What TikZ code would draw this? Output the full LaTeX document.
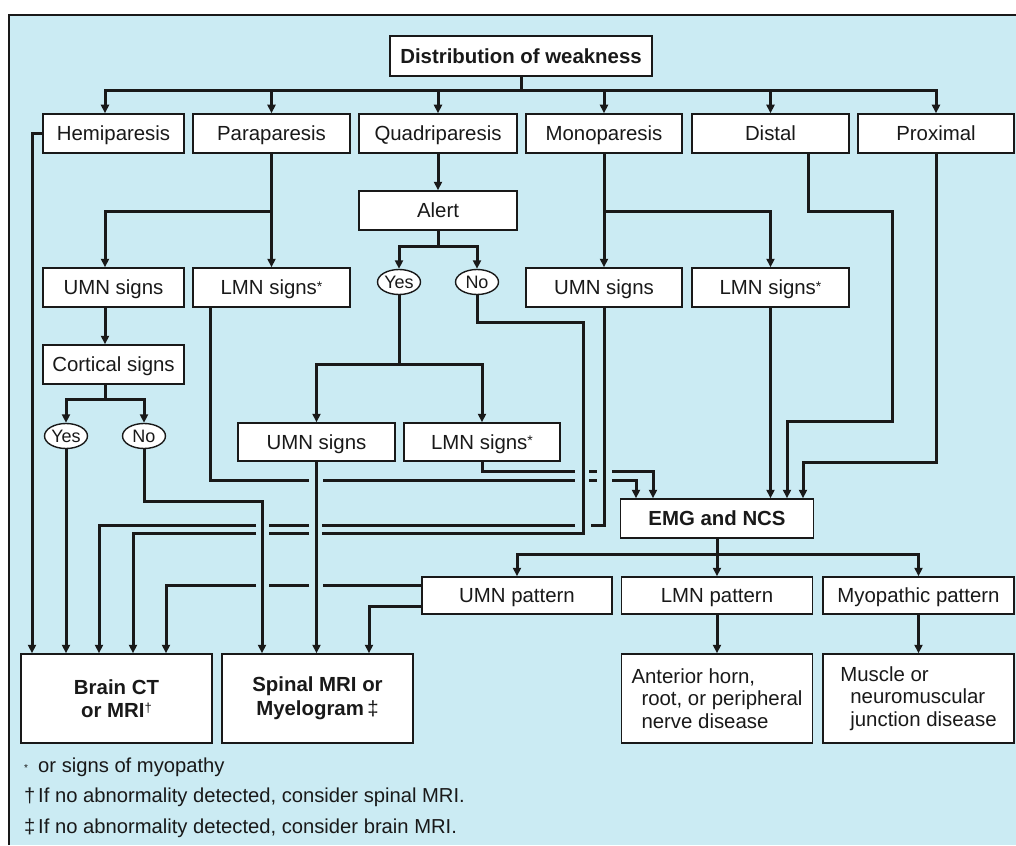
\documentclass[tikz,border=0pt]{standalone}
\usepackage{fontspec}
\setmainfont{Liberation Sans}
\usetikzlibrary{arrows.meta,shapes.geometric}
\definecolor{bg}{RGB}{203,235,243}
\definecolor{ink}{RGB}{25,25,25}
\newcommand{\sstar}{\raisebox{3.5pt}{\fontsize{14}{14}\selectfont *}}
\begin{document}
\begin{tikzpicture}[x=1pt,y=-1pt,
  box/.style={draw=ink, line width=1.5pt, fill=white, inner sep=0pt, minimum height=39pt,
    font=\fontsize{20.4}{22.5}\selectfont, text=ink},
  one/.style={box, text height=15pt, text depth=0.3pt},
  bone/.style={one, font=\fontsize{20.4}{22.5}\selectfont\bfseries},
  bbox/.style={box, font=\fontsize{20.4}{23.5}\selectfont\bfseries},
  oval/.style={ellipse, draw=ink, line width=1.4pt, fill=white, inner sep=0pt,
    minimum width=43pt, minimum height=25pt, font=\fontsize{18}{18}\selectfont, text=ink},
  foot/.style={inner sep=0pt, font=\fontsize{20.2}{22}\selectfont, text=ink},
  con/.style={line width=3pt, draw=ink},
  arr/.style={con, -{Triangle[length=8.5pt,width=8pt]}},
]
\useasboundingbox (0,0) rectangle (1016,845);
\fill[white] (0,0) rectangle (1016,845);
\fill[bg] (9,15) rectangle (1016,845);
\draw[line width=1.8pt, draw=ink] (9,845) -- (9,15) -- (1016,15);

% helper columns / rows
\coordinate (x32) at (32,0);
\coordinate (x99) at (99,0);
\coordinate (x105) at (105,0);
\coordinate (x133) at (133,0);
\coordinate (x166) at (166,0);
\coordinate (x210) at (210,0);
\coordinate (x262) at (262,0);
\coordinate (x369) at (369,0);
\coordinate (x636) at (636,0);
\coordinate (x653) at (653,0);
\coordinate (x787) at (787,0);
\coordinate (x803) at (803,0);
\coordinate (x808) at (808,0);
\coordinate (yBus) at (0,91);
\coordinate (y211) at (0,211);
\coordinate (y246) at (0,246);
\coordinate (y364) at (0,364);
\coordinate (y399) at (0,399);
\coordinate (y501) at (0,501);
\coordinate (y554) at (0,554);
\coordinate (y585) at (0,585);
\coordinate (y606) at (0,606);

% nodes
\node[bone, minimum width=262pt, minimum height=40pt] (dist) at (521,56) {Distribution of weakness};
\node[one, minimum width=141pt] (hemi) at (113.5,133.5) {Hemiparesis};
\node[one, minimum width=157pt] (para) at (271.5,133.5) {Paraparesis};
\node[one, minimum width=158pt] (quad) at (438,133.5) {Quadriparesis};
\node[one, minimum width=156pt] (mono) at (604,133.5) {Monoparesis};
\node[one, minimum width=157pt] (distal) at (770.5,133.5) {Distal};
\node[one, minimum width=156pt] (prox) at (936,133.5) {Proximal};
\node[one, minimum width=158pt] (alert) at (438,210.5) {Alert};
\node[one, minimum width=141pt] (umnA) at (113.5,287.5) {UMN signs};
\node[one, minimum width=157pt] (lmnA) at (271.5,287.5) {LMN signs\sstar};
\node[oval] (yesA) at (399,282) {Yes};
\node[oval] (noA) at (477,282) {No};
\node[one, minimum width=156pt] (umnB) at (604,287.5) {UMN signs};
\node[one, minimum width=157pt] (lmnB) at (770.5,287.5) {LMN signs\sstar};
\node[one, minimum width=141pt] (cort) at (113.5,364.5) {Cortical signs};
\node[oval] (yesB) at (66,436) {Yes};
\node[oval] (noB) at (144,436) {No};
\node[one, minimum width=157pt, minimum height=38pt] (umnC) at (316.5,442) {UMN signs};
\node[one, minimum width=156pt, minimum height=38pt] (lmnC) at (482,442) {LMN signs\sstar};
\node[bone, minimum width=193pt] (emg) at (717,518.5) {EMG and NCS};
\node[one, minimum width=190pt, minimum height=37pt] (umnP) at (517,595.5) {UMN pattern};
\node[one, minimum width=191pt, minimum height=37pt] (lmnP) at (717,595.5) {LMN pattern};
\node[one, minimum width=191pt, minimum height=37pt] (myoP) at (918.5,595.5) {Myopathic pattern};
\node[bbox, minimum width=191pt, minimum height=89pt, align=center] (brain) at (116.5,698.5)
  {Brain CT\\or MRI\raisebox{5pt}{\fontsize{13}{13}\selectfont\mdseries †}};
\node[bbox, minimum width=191pt, minimum height=89pt, align=center] (spinal) at (317.5,698.5)
  {Spinal MRI or\\Myelogram\,{\mdseries ‡}};
\node[box, minimum width=191pt, minimum height=89pt, align=left] (ant) at (717,698.5)
  {Anterior horn,\\\hspace*{10pt}root, or peripheral\\\hspace*{10pt}nerve disease};
\node[box, minimum width=191pt, minimum height=89pt, align=left] (mus) at (918.5,698.5)
  {Muscle or\\\hspace*{10pt}neuromuscular\\\hspace*{10pt}junction disease};

% footnotes
\node[foot, anchor=base west] (s1) at (24,772) {\raisebox{1pt}{\fontsize{10}{10}\selectfont *}};
\node[foot, anchor=base west] (t1) at (38,772) {or signs of myopathy};
\node[foot, anchor=base west] (s2) at (24,802) {†};
\node[foot, anchor=base west] (t2) at (38,802) {If no abnormality detected, consider spinal MRI.};
\node[foot, anchor=base west] (s3) at (24,833) {‡};
\node[foot, anchor=base west] (t3) at (38,833) {If no abnormality detected, consider brain MRI.};

% top bus
\draw[arr] (dist.south) -- (dist.south |- yBus) -| (hemi.north -| x105);
\draw[arr] (dist.south |- yBus) -| (prox.north);
\draw[arr] (para.north |- yBus) -- (para.north);
\draw[arr] (quad.north |- yBus) -- (quad.north);
\draw[arr] (mono.north |- yBus) -- (mono.north);
\draw[arr] (distal.north |- yBus) -- (distal.north);

% hemiparesis
\draw[arr] (hemi.west) -- (hemi.west -| x32) -- (brain.north -| x32);

% paraparesis
\draw[arr] (para.south) -- (lmnA.north);
\draw[arr] (para.south |- y211) -| (umnA.north -| x105);

% monoparesis
\draw[arr] (mono.south) -- (umnB.north);
\draw[arr] (mono.south |- y211) -| (lmnB.north);

% quadriparesis
\draw[arr] (quad.south) -- (alert.north);
\draw[arr] (alert.south) -- (alert.south |- y246) -| (yesA.north);
\draw[arr] (alert.south |- y246) -| (noA.north);

% UMN -> cortical
\draw[arr] (umnA.south -| x105) -- (cort.north -| x105);
\draw[arr] (cort.south -| x105) -- (x105 |- y399) -| (yesB.north);
\draw[arr] (x105 |- y399) -| (noB.north);

% cortical yes / no
\draw[arr] (yesB.south) -- (brain.north -| yesB.south);
\draw[arr] (noB.south) -- (noB.south |- y501) -| (spinal.north -| x262);

% alert yes
\draw[arr] (yesA.south) -- (yesA.south |- y364) -| (umnC.north);
\draw[arr] (yesA.south |- y364) -| (lmnC.north);
\draw[arr] (umnC.south) -- (spinal.north -| umnC.south);

% alert no -> brain
\draw[arr] (noA.south) |- (583,322) -- (583,533) -- (322,533)
  (309,533) -- (269,533) (256,533) -| (brain.north -| x133);

% mono UMN -> brain
\draw[arr] (umnB.south) |- (591,525) (575,525) -- (322,525)
  (309,525) -- (269,525) (256,525) -| (brain.north -| x99);

% LMN signs (para) -> EMG
\draw[arr] (lmnA.south -| x210) -- (210,480) -- (309,480) (323,480) -- (575,480)
  (589,480) -- (597,480) (612,480) -| (emg.north -| x636);

% LMN signs (quad) -> EMG
\draw[arr] (lmnC.south) |- (575,471) (589,471) -- (597,471) (612,471) -| (emg.north -| x653);

% LMN signs (mono) -> EMG
\draw[arr] (lmnB.south) -- (emg.north -| lmnB.south);

% distal -> EMG
\draw[arr] (distal.south -| x808) -- (808,211) -- (892,211) -- (892,421) -- (787,421) -- (emg.north -| x787);

% proximal -> EMG
\draw[arr] (prox.south) |- (803,462) -- (emg.north -| x803);

% EMG -> patterns
\draw[arr] (emg.south) -- (emg.south |- y554) -| (umnP.north);
\draw[arr] (emg.south |- y554) -| (myoP.north);
\draw[arr] (emg.south |- y554) -- (lmnP.north);

% UMN pattern -> brain / spinal
\draw[arr] (umnP.west |- y585) -- (323,585) (309,585) -- (269,585) (256,585) -| (brain.north -| x166);
\draw[arr] (umnP.west |- y606) -| (spinal.north -| x369);

% patterns -> diseases
\draw[arr] (lmnP.south) -- (ant.north);
\draw[arr] (myoP.south) -- (mus.north);
\end{tikzpicture}
\end{document}
